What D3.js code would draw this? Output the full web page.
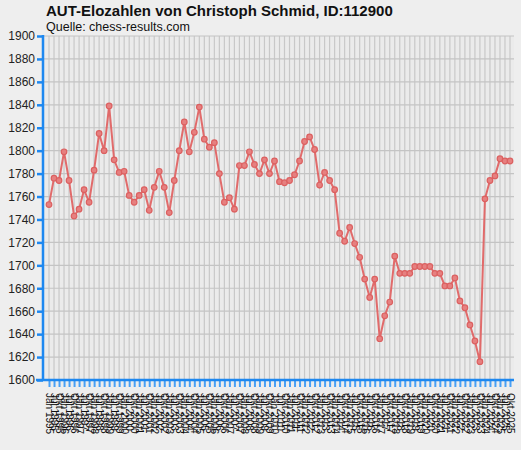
<!DOCTYPE html>
<html><head><meta charset="utf-8">
<script src="https://cdn.jsdelivr.net/npm/d3@7"></script>
<style>
html,body{margin:0;padding:0;background:#eeeeee;}
svg{display:block;font-family:"Liberation Sans",Arial,sans-serif;}
</style></head>
<body>
<svg id="c" width="521" height="450"></svg>
<script>
const months = ["Jän","Jul","Okt"];
const years = d3.range(1995, 2026);
const labels = [];
years.forEach(yr => months.forEach(m => labels.push(m + " " + yr)));

const elo = [1753,1776,1774,1799,1774,1743,1749,1766,1755,1783,
  1815,1800,1839,1792,1781,1782,1761,1755,1761,1766,
  1748,1768,1782,1768,1746,1774,1800,1825,1799,1816,
  1838,1810,1803,1807,1780,1755,1759,1749,1787,1787,
  1799,1788,1780,1792,1780,1791,1773,1772,1774,1779,
  1791,1808,1812,1801,1770,1781,1774,1766,1728,1721,
  1733,1719,1707,1688,1672,1688,1636,1656,1668,1708,
  1693,1693,1693,1699,1699,1699,1699,1693,1693,1682,
  1682,1689,1669,1663,1648,1634,1616,1758,1774,1778,
  1793,1791,1791];
const yTicks = d3.range(1600, 1901, 20);

(function(){
const svg = d3.select("#c");
const pL = 43, pR = 514, pT = 36, pB = 380;
const x = d3.scalePoint().domain(labels).range([49, 510]);
const y = d3.scaleLinear().domain([1600, 1900]).range([pB, pT]);

svg.append("rect").attr("x", pL).attr("y", pT).attr("width", pR - pL).attr("height", pB - pT).attr("fill", "#ebebeb");

svg.append("g").selectAll("line").data(labels).join("line")
  .attr("x1", d => x(d)).attr("x2", d => x(d)).attr("y1", pT).attr("y2", pB)
  .attr("stroke", "#c8c8c8").attr("stroke-width", 1.2);
svg.append("g").selectAll("line").data(yTicks).join("line")
  .attr("x1", pL).attr("x2", pR).attr("y1", d => y(d)).attr("y2", d => y(d))
  .attr("stroke", "#c4c4c4").attr("stroke-width", 1.2);

const yAxis = svg.append("g").attr("transform", `translate(${pL},0)`)
  .call(d3.axisLeft(y).tickValues(yTicks).tickSize(6).tickPadding(2).tickFormat(d3.format("d")));
yAxis.select(".domain").remove();
yAxis.append("line").attr("x1", 0).attr("x2", 0).attr("y1", pT - 1).attr("y2", pB).attr("stroke", "#1e88f0").attr("stroke-width", 2.5);
yAxis.selectAll(".tick line").attr("stroke", "#1e88f0").attr("stroke-width", 2.5);
yAxis.selectAll(".tick text").attr("fill", "#222").attr("font-size", 12).attr("font-family", "Liberation Sans, Arial, sans-serif");

const xAxis = svg.append("g").attr("transform", `translate(0,${pB})`)
  .call(d3.axisBottom(x).tickSize(7).tickPadding(4));
xAxis.select(".domain").remove();
xAxis.append("line").attr("x1", 36).attr("x2", pR).attr("y1", 0).attr("y2", 0).attr("stroke", "#1e88f0").attr("stroke-width", 2.5);
xAxis.selectAll(".tick line").attr("stroke", "#4aa0f4").attr("stroke-width", 2);
xAxis.selectAll(".tick text")
  .attr("font-size", 10).attr("fill", "#111").attr("font-family", "Liberation Sans, Arial, sans-serif")
  .attr("transform", "translate(0,13) rotate(90)")
  .attr("text-anchor", "start").attr("x", 0).attr("y", 0).attr("dy", "0.35em");

const line = d3.line().x((d, i) => x(labels[i])).y(d => y(d));
svg.append("path").datum(elo).attr("d", line).attr("fill", "none")
  .attr("stroke", "#e06464").attr("stroke-width", 2).attr("stroke-opacity", 0.95);
svg.append("g").selectAll("circle").data(elo).join("circle")
  .attr("cx", (d, i) => x(labels[i])).attr("cy", d => y(d)).attr("r", 2.8)
  .attr("fill", "#e68080").attr("stroke", "#dc6060").attr("stroke-width", 1.2);

svg.append("text").attr("x", 46).attr("y", 16).attr("font-size", 15).attr("font-weight", "bold").attr("fill", "#111")
  .text("AUT-Elozahlen von Christoph Schmid, ID:112900");
svg.append("text").attr("x", 46).attr("y", 31).attr("font-size", 12.5).attr("fill", "#111")
  .text("Quelle: chess-results.com");
})();
</script>
</body></html>
